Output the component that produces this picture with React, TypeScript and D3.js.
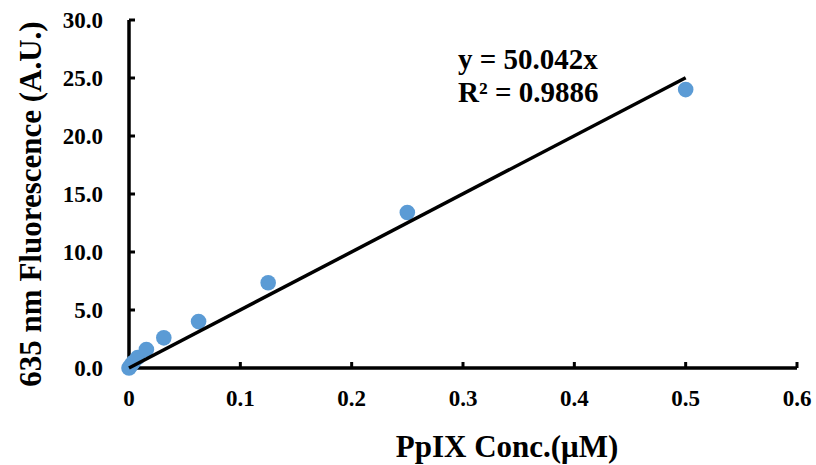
import React from "react";
import * as d3 from "d3";

const concentrations = [0, 0.00195, 0.0039, 0.0078, 0.015625, 0.03125, 0.0625, 0.125, 0.25, 0.5];
const fluorescence = [0, 0.25, 0.5, 0.9, 1.6, 2.6, 4.0, 7.35, 13.4, 24.0];
const slope = 50.042;
const xTicks = [0, 0.1, 0.2, 0.3, 0.4, 0.5, 0.6];
const yTicks = [0, 5, 10, 15, 20, 25, 30];
const equationLines = ["y = 50.042x", "R² = 0.9886"];

export default function App() {
  const W = 816, H = 465;
  const x = d3.scaleLinear().domain([0, 0.6]).range([129, 797]);
  const y = d3.scaleLinear().domain([0, 30]).range([368, 20]);
  const font = "'Liberation Serif', 'Times New Roman', serif";
  const line = d3.line<number>().x(d => x(d)).y(d => y(d * slope));
  return (
    <svg width={W} height={H} style={{ position: "absolute", left: 0, top: 0 }} fontFamily={font} fontWeight="bold">
      <rect width={W} height={H} fill="#fff" />
      {/* axes */}
      <line x1={x(0)} x2={x(0.6)} y1={y(0)} y2={y(0)} stroke="#000" strokeWidth={3.5} />
      <line x1={x(0)} x2={x(0)} y1={y(0) + 1.75} y2={y(30)} stroke="#000" strokeWidth={3.5} />
      {xTicks.map(t => (
        <g key={"x" + t}>
          <line x1={x(t)} x2={x(t)} y1={y(0)} y2={y(0) - 6} stroke="#000" strokeWidth={3} />
          <text x={x(t)} y={406} textAnchor="middle" fontSize={23}>{t === 0 ? "0" : String(t)}</text>
        </g>
      ))}
      {yTicks.map(t => (
        <g key={"y" + t}>
          <line x1={x(0)} x2={x(0) + 6} y1={y(t)} y2={y(t)} stroke="#000" strokeWidth={3} />
          <text x={103} y={y(t) + 7.5} textAnchor="end" fontSize={23}>{t.toFixed(1)}</text>
        </g>
      ))}
      {/* points */}
      {concentrations.map((c, i) => (
        <circle key={i} cx={x(c)} cy={y(fluorescence[i])} r={7.8} fill="#5B9BD5" />
      ))}
      {/* trendline */}
      <path d={line([0, 0.5]) || ""} stroke="#000" strokeWidth={3.5} fill="none" />
      {/* equation */}
      {equationLines.map((s, i) => (
        <text key={i} x={458} y={69 + i * 33} fontSize={29}>{s}</text>
      ))}
      {/* titles */}
      <text x={507} y={457} textAnchor="middle" fontSize={31}>PpIX Conc.(μM)</text>
      <text transform={`translate(41,204) rotate(-90)`} textAnchor="middle" fontSize={31}>635 nm Fluorescence (A.U.)</text>
    </svg>
  );
}
